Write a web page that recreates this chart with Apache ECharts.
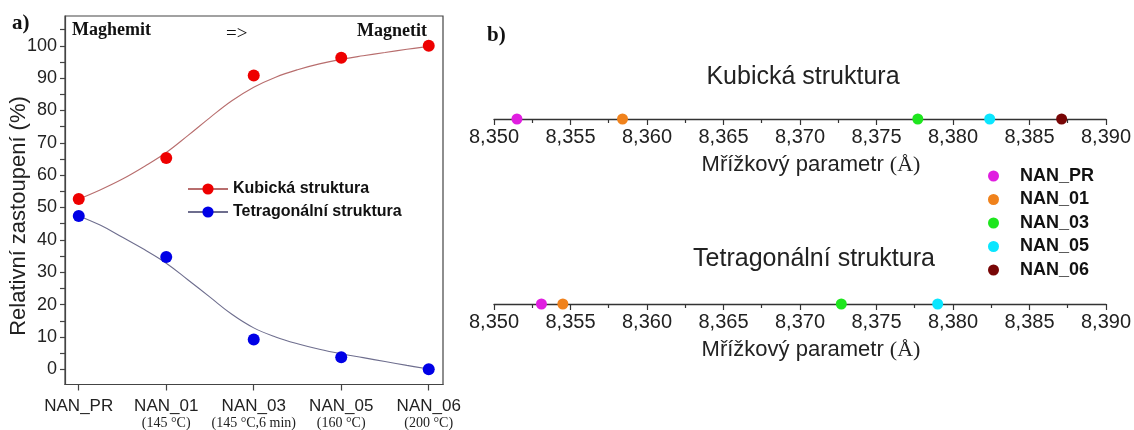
<!DOCTYPE html>
<html>
<head>
<meta charset="utf-8">
<script src="https://cdn.jsdelivr.net/npm/echarts@6/dist/echarts.min.js"></script>
<style>html,body{margin:0;padding:0;background:#fff}#c{width:1134px;height:430px}</style>
</head>
<body>
<div id="c"></div>
<script>
// ---- data ----
const categories = ['NAN_PR', 'NAN_01', 'NAN_03', 'NAN_05', 'NAN_06'];
const conditions = ['', '(145 °C)', '(145 °C,6 min)', '(160 °C)', '(200 °C)'];
const categoryPos = [0, 1, 2, 3, 4];
const kubickaPct = [52.6, 65.3, 90.8, 96.3, 100];
const tetraPct = [47.4, 34.7, 9.2, 3.7, 0];
const fitPos = [0, 0.25, 0.5, 0.75, 1, 1.25, 1.5, 1.75, 2, 2.25, 2.5, 2.75, 3, 3.25, 3.5, 3.75, 4];
const kubickaFit = [52.6, 55.5, 58.8, 62.7, 67.0, 72.3, 77.8, 83.0, 87.2, 90.3, 92.6, 94.4, 95.8, 96.9, 97.9, 98.9, 99.8];
const tetraFit = [47.4, 44.5, 40.8, 37.0, 32.8, 27.6, 22.3, 17.0, 12.8, 10.0, 7.9, 6.2, 4.8, 3.6, 2.4, 1.2, 0.1];
const yLabelValues = [0, 10, 20, 30, 40, 50, 60, 70, 80, 90, 100];
const yTickValues = [0, 5, 10, 15, 20, 25, 30, 35, 40, 45, 50, 55, 60, 65, 70, 75, 80, 85, 90, 95, 100, 105];

const samples = ['NAN_PR', 'NAN_01', 'NAN_03', 'NAN_05', 'NAN_06'];
const kubickaLattice = [8.3515, 8.3584, 8.3777, 8.3824, 8.3871];
const tetraLattice = [8.3531, 8.3545, 8.3727, 8.3790, null];

// ---- styles ----
const sampleColors = ['#e01ee0', '#f0821c', '#1ee61e', '#0ae6ff', '#780606'];
const SANS = 'Liberation Sans, Arial, sans-serif';
const SERIF = 'Liberation Serif, Times New Roman, serif';

const chart = echarts.init(document.getElementById('c'), null, {renderer: 'canvas'});

const series = [
  {
    name: 'Kubická struktura', type: 'line', xAxisIndex: 0, yAxisIndex: 0,
    data: fitPos.map((x, i) => [x, kubickaFit[i]]),
    smooth: 0.4, showSymbol: false, symbol: 'circle', symbolSize: 12,
    itemStyle: {color: '#ee0000', opacity: 1}, lineStyle: {color: '#b86e6e', width: 1.1}, z: 2, silent: true
  },
  {
    name: 'Tetragonální struktura', type: 'line', xAxisIndex: 0, yAxisIndex: 0,
    data: fitPos.map((x, i) => [x, tetraFit[i]]),
    smooth: 0.4, showSymbol: false, symbol: 'circle', symbolSize: 12,
    itemStyle: {color: '#0000e6', opacity: 1}, lineStyle: {color: '#6e6e8e', width: 1.1}, z: 2, silent: true
  },
  {
    name: 'kub_pts', type: 'scatter', xAxisIndex: 0, yAxisIndex: 0,
    data: categoryPos.map((x, i) => [x, kubickaPct[i]]),
    symbol: 'circle', symbolSize: 12, itemStyle: {color: '#ee0000', opacity: 1}, z: 3
  },
  {
    name: 'tet_pts', type: 'scatter', xAxisIndex: 0, yAxisIndex: 0,
    data: categoryPos.map((x, i) => [x, tetraPct[i]]),
    symbol: 'circle', symbolSize: 12, itemStyle: {color: '#0000e6', opacity: 1}, z: 3
  }
];
samples.forEach((s, i) => {
  series.push({
    name: s, type: 'scatter', xAxisIndex: 1, yAxisIndex: 1,
    data: [[kubickaLattice[i], 0]], symbolSize: 11,
    itemStyle: {color: sampleColors[i], opacity: 1}, z: 5
  });
  if (tetraLattice[i] !== null) {
    series.push({
      name: s, type: 'scatter', xAxisIndex: 2, yAxisIndex: 2,
      data: [[tetraLattice[i], 0]], symbolSize: 11,
      itemStyle: {color: sampleColors[i], opacity: 1}, z: 5
    });
  }
});

const latticeAxis = (gridIndex) => ({
  type: 'value', gridIndex: gridIndex, min: 8.35, max: 8.39, interval: 0.005,
  axisLine: {onZero: false, lineStyle: {color: '#333', width: 1.3}},
  axisTick: {show: true, inside: false, length: 6, lineStyle: {color: '#333', width: 1.2}},
  minorTick: {show: true, splitNumber: 2, length: 4, lineStyle: {color: '#333', width: 1.2}},
  splitLine: {show: false}, minorSplitLine: {show: false},
  axisLabel: {
    margin: 8, fontSize: 20, fontFamily: SANS, color: '#222',
    formatter: (v) => v.toFixed(3).replace('.', ',')
  },
  name: 'Mřížkový parametr {s|(Å)}', nameLocation: 'middle', nameGap: 35,
  nameTextStyle: {
    fontSize: 22, fontFamily: SANS, color: '#222', padding: [0, 0, 0, 22],
    rich: {s: {fontSize: 22, fontFamily: SERIF, color: '#222'}}
  }
});

const option = {
  animation: false,
  backgroundColor: '#fff',
  grid: [
    {left: 65, top: 16, width: 378, height: 372, show: true, borderColor: '#444', borderWidth: 1.2, backgroundColor: 'transparent'},
    {left: 494, top: 99, width: 613, height: 20},
    {left: 494, top: 284, width: 613, height: 20}
  ],
  xAxis: [
    {
      type: 'value', gridIndex: 0, min: -0.157, max: 4.163,
      axisLine: {onZero: false, lineStyle: {color: '#444', width: 1.2}},
      splitLine: {show: false},
      axisTick: {show: true, customValues: categoryPos, length: 6, lineStyle: {color: '#444', width: 1.2}},
      axisLabel: {
        customValues: categoryPos, margin: 12, color: '#222',
        formatter: (v) => {
          const i = Math.round(v);
          return conditions[i] ? '{m|' + categories[i] + '}\n{s|' + conditions[i] + '}' : '{m|' + categories[i] + '}';
        },
        rich: {
          m: {fontSize: 17, fontFamily: SANS, color: '#222', lineHeight: 19},
          s: {fontSize: 14, fontFamily: SERIF, color: '#222', lineHeight: 15}
        }
      }
    },
    latticeAxis(1),
    latticeAxis(2)
  ],
  yAxis: [
    {
      type: 'value', gridIndex: 0, min: -4.7, max: 109.2,
      axisLine: {show: true, onZero: false, lineStyle: {color: '#444', width: 1.2}},
      splitLine: {show: false},
      axisTick: {show: true, customValues: yTickValues, length: 5, lineStyle: {color: '#444', width: 1.2}},
      axisLabel: {customValues: yLabelValues, margin: 8, fontSize: 18, fontFamily: SANS, color: '#222'}
    },
    {type: 'value', gridIndex: 1, min: 0, max: 1, show: false},
    {type: 'value', gridIndex: 2, min: 0, max: 1, show: false}
  ],
  legend: [
    {
      data: ['Kubická struktura', 'Tetragonální struktura'],
      orient: 'vertical', left: 182, top: 176, itemWidth: 40, itemHeight: 14, itemGap: 7,
      textStyle: {fontSize: 16, fontWeight: 'bold', fontFamily: SANS, color: '#111'},
      selectedMode: false
    },
    {
      data: samples.map(s => ({name: s, icon: 'circle'})),
      orient: 'vertical', left: 983, top: 162, itemWidth: 43, itemHeight: 11, itemGap: 5.5,
      textStyle: {fontSize: 18, fontWeight: 'bold', fontFamily: SANS, color: '#111'},
      selectedMode: false
    }
  ],
  graphic: [
    {type: 'text', x: 12, y: 24, style: {text: 'a)', font: 'bold 21px ' + SERIF, fill: '#111', verticalAlign: 'middle'}},
    {type: 'text', x: 487, y: 36, style: {text: 'b)', font: 'bold 21px ' + SERIF, fill: '#111', verticalAlign: 'middle'}},
    {type: 'text', x: 72, y: 30, style: {text: 'Maghemit', font: 'bold 18px ' + SERIF, fill: '#111', verticalAlign: 'middle'}},
    {type: 'text', x: 226, y: 34, style: {text: '=>', font: '19px ' + SERIF, fill: '#111', verticalAlign: 'middle'}},
    {type: 'text', x: 357, y: 31, style: {text: 'Magnetit', font: 'bold 18px ' + SERIF, fill: '#111', verticalAlign: 'middle'}},
    {type: 'text', x: 19, y: 216, rotation: Math.PI / 2, style: {text: 'Relativní zastoupení (%)', font: '22px ' + SANS, fill: '#222', align: 'center', verticalAlign: 'middle'}},
    {type: 'text', x: 803, y: 77, style: {text: 'Kubická struktura', font: '25px ' + SANS, fill: '#222', align: 'center', verticalAlign: 'middle'}},
    {type: 'text', x: 814, y: 259, style: {text: 'Tetragonální struktura', font: '25px ' + SANS, fill: '#222', align: 'center', verticalAlign: 'middle'}}
  ],
  series: series
};
chart.setOption(option);
</script>
</body>
</html>
